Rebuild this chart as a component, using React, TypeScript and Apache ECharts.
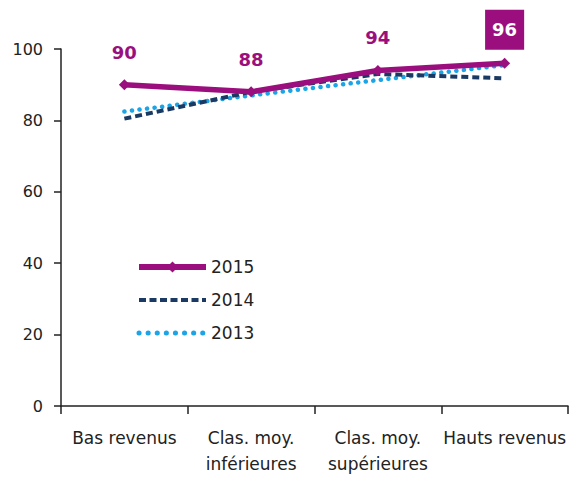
import React, { useEffect, useRef } from "react";
import * as echarts from "echarts";

const categories = ["Bas revenus", "Clas. moy.\ninférieures", "Clas. moy.\nsupérieures", "Hauts revenus"];
const values2015 = [90, 88, 94, 96];
const values2014 = [80.5, 88, 93, 91.8];
const values2013 = [82.5, 87, 91.3, 95.5];
const yTicks = [0, 20, 40, 60, 80, 100];

const PURPLE = "#9a0f7d";
const NAVY = "#1b3a63";
const BLUE = "#1ba4e6";
const FONT = "DejaVu Sans";

export default function App() {
  const ref = useRef<HTMLDivElement>(null);
  useEffect(() => {
    const chart = echarts.init(ref.current!, null, { renderer: "svg" });
    const last = values2015.length - 1;
    chart.setOption({
      animation: false,
      backgroundColor: "#ffffff",
      grid: { left: 61, right: 3, top: 49, bottom: 70, containLabel: false },
      legend: {
        orient: "vertical",
        left: 136,
        top: 258,
        padding: 0,
        itemWidth: 67,
        itemHeight: 14,
        itemGap: 15,
        data: [
          { name: "2015", lineStyle: { width: 6, color: PURPLE } },
          { name: "2014", itemStyle: { opacity: 0 }, lineStyle: { width: 4, color: NAVY, type: [7, 3.5] } },
          { name: "2013", itemStyle: { opacity: 0 }, lineStyle: { width: 5, color: BLUE, type: [0.1, 9], cap: "round" } },
        ],
        textStyle: { fontFamily: FONT, fontSize: 17, color: "#222", lineHeight: 18 },
      },
      xAxis: {
        type: "category",
        data: categories,
        boundaryGap: true,
        axisLine: { lineStyle: { color: "#222", width: 1.5 } },
        axisTick: { show: true, length: 8, alignWithLabel: false, lineStyle: { color: "#222", width: 1.5 } },
        axisLabel: { fontFamily: FONT, fontSize: 17, color: "#222", lineHeight: 26, margin: 19, interval: 0 },
      },
      yAxis: {
        type: "value",
        min: yTicks[0],
        max: yTicks[yTicks.length - 1],
        interval: 20,
        splitLine: { show: false },
        axisLine: { show: true, lineStyle: { color: "#222", width: 1.5 } },
        axisTick: { show: true, length: 7, lineStyle: { color: "#222", width: 1.5 } },
        axisLabel: { fontFamily: FONT, fontSize: 16, color: "#222", margin: 18 },
      },
      series: [
        {
          name: "2013",
          type: "line",
          data: values2013,
          z: 3,
          symbol: "none",
          lineStyle: { color: BLUE, width: 4.5, type: [0.1, 7.5], cap: "round" },
          itemStyle: { color: BLUE },
        },
        {
          name: "2014",
          type: "line",
          data: values2014,
          z: 4,
          symbol: "none",
          lineStyle: { color: NAVY, width: 4, type: [7, 4] },
          itemStyle: { color: NAVY },
        },
        {
          name: "2015",
          type: "line",
          data: values2015.map((v, i) =>
            i === last
              ? {
                  value: v,
                  label: {
                    color: "#ffffff",
                    backgroundColor: PURPLE,
                    padding: [11, 7, 11, 7],
                    distance: 8,
                  },
                }
              : v
          ),
          z: 5,
          symbol: "diamond",
          symbolSize: 11,
          lineStyle: { color: PURPLE, width: 5.5 },
          itemStyle: { color: PURPLE },
          label: {
            show: true,
            position: "top",
            distance: 18,
            fontFamily: FONT,
            fontSize: 18,
            fontWeight: "bold",
            color: PURPLE,
          },
        },
      ],
    });
    return () => chart.dispose();
  }, []);
  return <div ref={ref} style={{ position: "absolute", left: 0, top: 0, width: 571, height: 477 }} />;
}
